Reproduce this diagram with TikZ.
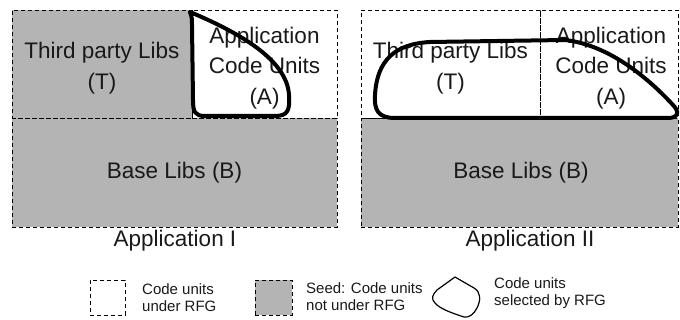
\documentclass[tikz,border=0pt]{standalone}
\usepackage{fontspec}
\setmainfont{Liberation Sans}
\definecolor{seedgray}{RGB}{180,180,180}
\definecolor{txt}{RGB}{25,25,25}
\tikzset{
  dbox/.style={draw=black, line width=0.9pt, dash pattern=on 4pt off 3pt},
  seedfill/.style={fill=seedgray},
  big/.style={font=\fontsize{22.5}{30.5}\selectfont, text=txt, align=center, inner sep=0pt},
  small/.style={font=\fontsize{15}{17}\selectfont, text=txt, align=left, inner sep=0pt, anchor=west},
  blob/.style={draw=black, line width=4pt, line join=round, line cap=round},
  thinblob/.style={draw=black, line width=1.2pt, line join=round},
}
\begin{document}
\begin{tikzpicture}[x=1pt,y=-1pt]
\useasboundingbox (0,0) rectangle (680,320);
% ---------- Application I ----------
\fill[seedgray] (12,10) rectangle (192,118);
\fill[seedgray] (12,118) rectangle (337,227);
\node[dbox, minimum width=180pt, minimum height=108pt, anchor=north west, inner sep=0pt] (t1) at (12,10) {};
\node[dbox, minimum width=145pt, minimum height=108pt, anchor=north west, inner sep=0pt] (a1) at (192,10) {};
\node[dbox, minimum width=325pt, minimum height=109pt, anchor=north west, inner sep=0pt] (b1) at (12,118) {};
\node[big] (t1txt) at (102,68) {Third party Libs\\(T)};
\node[big] (a1txt) at (264.5,68) {Application\\Code Units\\(A)};
\node[big] (b1txt) at (174.5,173) {Base Libs (B)};
\node[big] (app1) at (175,241) {Application I};
\draw[blob] (190,12) .. controls (240,33) and (287,60) .. (289,95)
  .. controls (290,110) and (288,116) .. (275,116) -- (205,116)
  .. controls (195,116) and (193,112) .. (193,100) -- (192,25)
  .. controls (192,18) .. (190,12);
% ---------- Application II ----------
\fill[seedgray] (361,118) rectangle (678,227);
\node[dbox, minimum width=179pt, minimum height=108pt, anchor=north west, inner sep=0pt] (t2) at (361,10) {};
\node[dbox, minimum width=138pt, minimum height=108pt, anchor=north west, inner sep=0pt] (a2) at (540,10) {};
\node[dbox, minimum width=317pt, minimum height=109pt, anchor=north west, inner sep=0pt] (b2) at (361,118) {};
\node[big] (t2txt) at (450.5,68) {Third party Libs\\(T)};
\node[big] (a2txt) at (611,68) {Application\\Code Units\\(A)};
\node[big] (b2txt) at (521,173) {Base Libs (B)};
\node[big] (app2) at (530,241) {Application II};
\draw[blob] (395,118) .. controls (378,118) and (374,110) .. (375,95)
  .. controls (377,60) and (395,44) .. (430,42) -- (565,40)
  .. controls (610,45) and (650,80) .. (673,105)
  .. controls (680,112) and (678,118) .. (668,118) -- cycle;
% ---------- Legend ----------
\node[dbox, minimum width=35pt, minimum height=35pt, anchor=north west, inner sep=0pt] (lg1) at (90,280) {};
\node[small] (lg1txt) at (142,297.5) {Code units\\under RFG};
\node[dbox, seedfill, minimum width=37pt, minimum height=35pt, anchor=north west, inner sep=0pt] (lg2) at (255,280) {};
\node[small] (lg2txt) at (306,296.5) {Seed: Code units\\not under RFG};
\draw[thinblob] (455,277) -- (474,288) .. controls (481,292) and (481,300) .. (477,308)
  .. controls (474,314) and (469,318) .. (464,317)
  .. controls (452,313) and (440,309) .. (435,303)
  .. controls (431,299) and (432,295) .. (437,290) -- cycle;
\node[small] (lg3txt) at (494,293) {Code units\\selected by RFG};
\end{tikzpicture}
\end{document}
